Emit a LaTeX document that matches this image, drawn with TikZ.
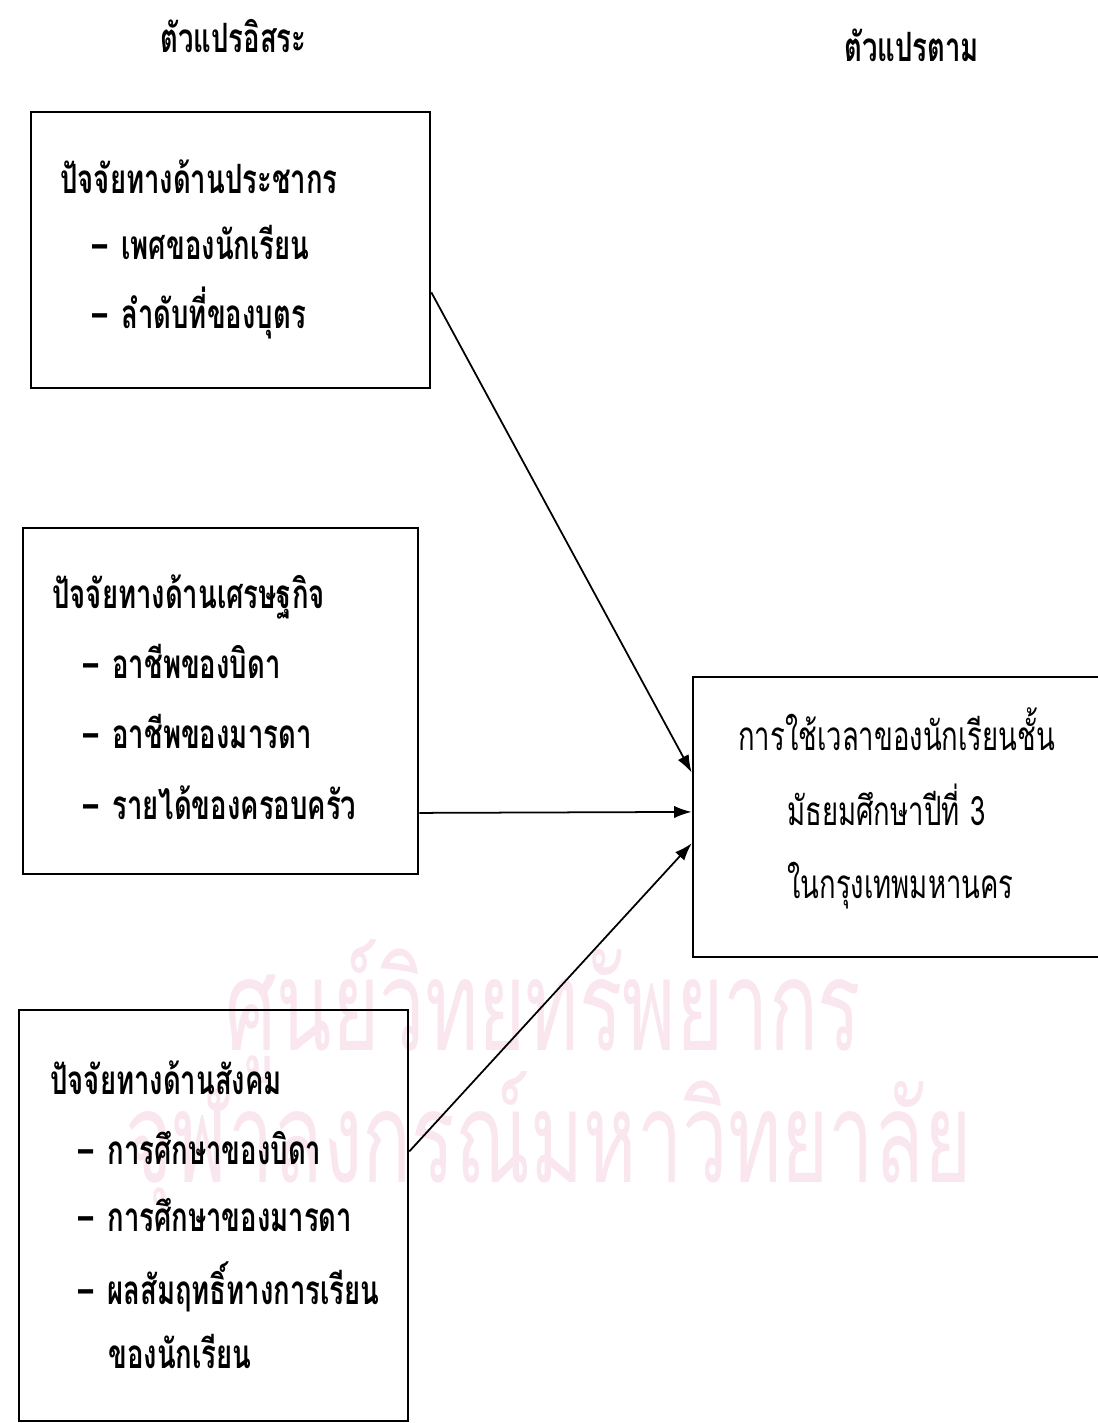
\documentclass[tikz,border=0pt]{standalone}
\usepackage{fontspec}
\usepackage{tikz}
\usetikzlibrary{arrows.meta, calc, fit}
\newfontfamily\thaifont[Script=Thai, FakeStretch=0.68]{Loma}
\newfontfamily\thaiwm[Script=Thai, FakeStretch=0.64]{Loma}
\definecolor{wmpink}{HTML}{F9E6EE}

\begin{document}
\begin{tikzpicture}[x=0.02cm, y=-0.02cm,
  varbox/.style={draw, line width=1.5pt, inner sep=0pt},
  head/.style={anchor=base west, inner sep=0pt, font=\thaifont\bfseries\fontsize{23}{23}\selectfont},
  item/.style={anchor=base west, inner sep=0pt, font=\thaifont\bfseries\fontsize{23}{23}\selectfont},
  outtext/.style={anchor=base west, inner sep=0pt, font=\thaifont\fontsize{23}{23}\selectfont},
  wmark/.style={anchor=base west, inner sep=0pt, text=wmpink, font=\thaiwm\fontsize{72}{72}\selectfont},
  link/.style={line width=1pt, -{Latex[length=10pt, width=7pt]}}]
\useasboundingbox (0,0) rectangle (1098,1423);
% Marca de agua
\node[wmark] (wm1) at (225,1050) {ศูนย์วิทยทรัพยากร};
\node[wmark] (wm2) at (125,1182) {จุฬาลงกรณ์มหาวิทยาลัย};
% Encabezados
\node[head] (hin) at (160,52) {ตัวแปรอิสระ};
\node[head] (hout) at (844,61) {ตัวแปรตาม};
% Cajas
\node[varbox, fit={(31,112) (430,388)}] (b1) {};
\node[varbox, fit={(23,528) (418,874)}] (b2) {};
\node[varbox, fit={(19,1010) (408,1421)}] (b3) {};
\node[varbox, fit={(693,677) (1115,957)}] (b4) {};
% Factores de poblacion
\node[head] (t1) at (60,193) {ปัจจัยทางด้านประชากร};
\node[item] (t11) at (92,259) {–\hspace{8pt}เพศของนักเรียน};
\node[item] (t12) at (92,328) {–\hspace{8pt}ลำดับที่ของบุตร};
% Factores economicos
\node[head] (t2) at (52,608) {ปัจจัยทางด้านเศรษฐกิจ};
\node[item] (t21) at (83,678) {–\hspace{8pt}อาชีพของบิดา};
\node[item] (t22) at (83,748) {–\hspace{8pt}อาชีพของมารดา};
\node[item] (t23) at (83,819) {–\hspace{8pt}รายได้ของครอบครัว};
% Factores sociales
\node[head] (t3) at (50,1094) {ปัจจัยทางด้านสังคม};
\node[item] (t31) at (78,1164) {–\hspace{8pt}การศึกษาของบิดา};
\node[item] (t32) at (78,1231) {–\hspace{8pt}การศึกษาของมารดา};
\node[item] (t33) at (78,1304) {–\hspace{8pt}ผลสัมฤทธิ์ทางการเรียน};
\node[item] (t34) at (108,1368) {ของนักเรียน};
% Variable dependiente
\node[outtext] (t4) at (738,750) {การใช้เวลาของนักเรียนชั้น};
\node[outtext] (t41) at (787,825) {มัธยมศึกษาปีที่\hspace{6pt}3};
\node[outtext] (t42) at (787,898) {ในกรุงเทพมหานคร};
% Flechas
\draw[link] ($(b1.north east)!0.652!(b1.south east)$) -- ($(b4.north west)!0.343!(b4.south west)$);
\draw[link] ($(b2.north east)!0.821!(b2.south east)$) -- ($(b4.north west)!0.482!(b4.south west)$);
\draw[link] ($(b3.north east)!0.345!(b3.south east)$) -- ($(b4.north west)!0.593!(b4.south west)$);
\end{tikzpicture}
\end{document}
